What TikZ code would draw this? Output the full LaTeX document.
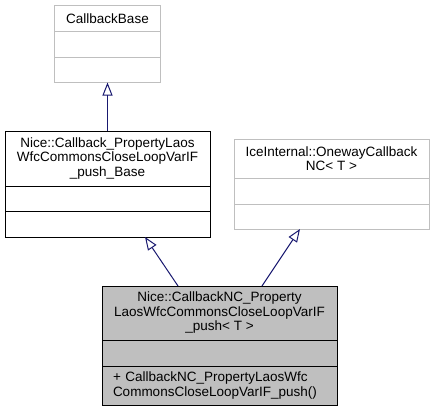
\documentclass[tikz,border=0pt]{standalone}
\usepackage{fontspec}
\setmainfont{Liberation Sans}
\usetikzlibrary{positioning,arrows.meta}

\begin{document}
\begin{tikzpicture}[x=1pt,y=-1pt,font=\fontsize{13.5}{14.5}\selectfont]
  % Colors
  \definecolor{inheritcolor}{RGB}{25,25,112}
  \colorlet{grayedge}{black!25}
  \colorlet{classfill}{black!25}

  % Styles
  \tikzstyle{compartment}=[draw,line width=1pt,inner sep=0pt,outer sep=0pt,align=center]
  \tikzstyle{foreign class}=[compartment,draw=grayedge]
  \tikzstyle{main class}=[compartment,fill=classfill]
  \tikzstyle{inherit}=[inheritcolor,line width=1pt,-{Triangle[open,length=13pt,width=10pt]}]

  \useasboundingbox (0,0) rectangle (435,412);

  % CallbackBase
  \node[foreign class,anchor=north west,minimum width=106,minimum height=26]
    (cbb) at (54.5,5.5) {CallbackBase};
  \node[foreign class,below=0pt of cbb,minimum width=106,minimum height=26] (cbbAttr) {};
  \node[foreign class,below=0pt of cbbAttr,minimum width=106,minimum height=25] (cbbOps) {};

  % Nice::Callback_..._Base
  \node[compartment,anchor=north west,minimum width=205,minimum height=55]
    (base) at (5,131) {Nice::Callback\_PropertyLaos\\WfcCommonsCloseLoopVarIF\\\_push\_Base};
  \node[compartment,below=0pt of base,minimum width=205,minimum height=25] (baseAttr) {};
  \node[compartment,below=0pt of baseAttr,minimum width=205,minimum height=26] (baseOps) {};

  % IceInternal::OnewayCallbackNC
  \node[foreign class,anchor=north west,minimum width=195,minimum height=39]
    (ice) at (234,139) {IceInternal::OnewayCallback\\NC< T >};
  \node[foreign class,below=0pt of ice,minimum width=195,minimum height=26] (iceAttr) {};
  \node[foreign class,below=0pt of iceAttr,minimum width=195,minimum height=25] (iceOps) {};

  % Nice::CallbackNC_...
  \node[main class,anchor=north west,minimum width=235,minimum height=54]
    (cbnc) at (102,286) {Nice::CallbackNC\_Property\\LaosWfcCommonsCloseLoopVarIF\\\_push< T >};
  \node[main class,below=0pt of cbnc,minimum width=235,minimum height=26] (cbncAttr) {};
  \node[main class,below=0pt of cbncAttr,minimum width=235,minimum height=39,
    text width=213,inner xsep=11,align=left] (cbncOps)
    {+ CallbackNC\_PropertyLaosWfc\\CommonsCloseLoopVarIF\_push()};

  % Inheritance
  \draw[inherit] (base.north) -- (cbbOps.south);
  \draw[inherit] ([xshift=-41.5]cbnc.north) -- ([xshift=37.5]baseOps.south);
  \draw[inherit] ([xshift=42.5]cbnc.north) -- ([xshift=-31.5]iceOps.south);
\end{tikzpicture}
\end{document}
